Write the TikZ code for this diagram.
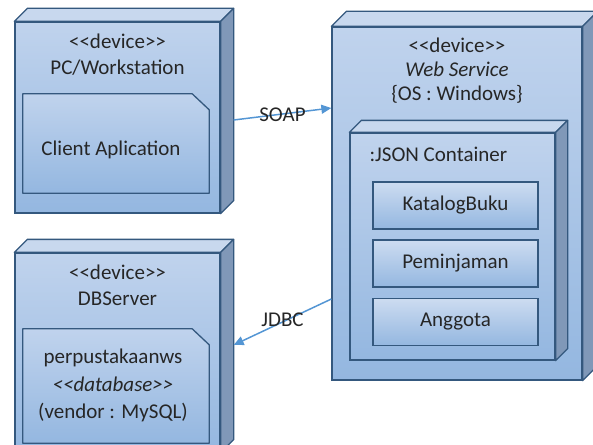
\documentclass[tikz,border=0pt]{standalone}
\usepackage{fontspec}
\newfontfamily\calibfont{Carlito}
\usetikzlibrary{arrows.meta}
\definecolor{nodeline}{RGB}{52,88,126}
\definecolor{facetop}{RGB}{192,211,237}
\definecolor{facebot}{RGB}{148,183,224}
\definecolor{roofblue}{RGB}{200,216,238}
\definecolor{sideblue}{RGB}{128,152,184}
\definecolor{linkblue}{RGB}{84,150,212}

\begin{document}
\begin{tikzpicture}[x=1pt,y=-1pt]
\tikzset{
  front/.style n args={2}{draw=nodeline,line width=1.3pt,top color=facetop,bottom color=facebot,minimum width=#1,minimum height=#2,inner sep=0pt},
  roof/.style={fill=roofblue,draw=nodeline,line width=1.3pt,line join=round},
  side/.style={fill=sideblue,draw=nodeline,line width=1.3pt,line join=round},
  part/.style={draw=nodeline,line width=1.3pt,top color=facetop!80!white,bottom color=facebot,minimum width=165pt,minimum height=47pt,inner sep=0pt,font=\calibfont\fontsize{21}{26}\selectfont,text=black!85},
  lab/.style={font=\calibfont\fontsize{21}{26}\selectfont,align=center,text=black!85},
  arr/.style={-{Triangle[length=10pt,width=9pt]},draw=linkblue,line width=1.5pt}
}
\useasboundingbox (0,0) rectangle (593,444);
\clip (0,0) rectangle (593,444);
% device nodes
\node[front={205pt}{191pt}] (pc) at (117.5,117.5) {};
\node[front={205pt}{199pt}] (db) at (117.5,352.5) {};
\node[front={250pt}{353pt}] (ws) at (457,203.5) {};
\node[front={205pt}{227pt}] (json) at (452.5,246.5) {};
\foreach \n/\d in {pc/13,db/13,ws/15,json/12}{
  \filldraw[roof] (\n.north west) -- ++(\d,-\d) -- ([shift={(\d,-\d)}]\n.north east) -- (\n.north east) -- cycle;
  \filldraw[side] (\n.north east) -- ([shift={(\d,-\d)}]\n.north east) -- ([shift={(\d,-\d)}]\n.south east) -- (\n.south east) -- cycle;
}
% artifacts with folded corner
\node[minimum width=186pt,minimum height=99pt,inner sep=0pt] (client) at (116,143.5) {};
\node[minimum width=186pt,minimum height=114pt,inner sep=0pt] (dbart) at (116,386) {};
\foreach \n in {client,dbart}{
  \shade[top color=facetop,bottom color=facebot,draw=nodeline,line width=1.3pt,line join=round]
    (\n.south west) -- (\n.north west) -- ([xshift=-17pt]\n.north east) -- ([yshift=-16pt]\n.north east) -- (\n.south east) -- cycle;
}
% texts
\node[lab] (pc-t) at (117.5,55) {<<device>>\\PC/Workstation};
\node[lab] (client-t) at (111,150) {Client Aplication};
\node[lab] (db-t) at (117.5,285.5) {<<device>>\\DBServer};
\node[lab,font=\calibfont\fontsize{21}{27.5}\selectfont] (dbart-t) at (113,385.5) {perpustakaanws\\\textit{<<database>>}\\(vendor : MySQL)};
\node[lab,font=\calibfont\fontsize{21}{24}\selectfont] (ws-t) at (457,71) {<<device>>\\\textit{Web Service}\\\{OS : Windows\}};
\node[lab,anchor=west] (json-t) at (366,154) {:JSON Container};
% components
\node[part] (katalog) at (455.5,205.5) {KatalogBuku};
\node[part] (pinjam) at (455.5,263.5) {Peminjaman};
\node[part] (anggota) at (455.5,322) {Anggota};
% links
\coordinate (soap-s) at ([shift={(13pt,-2.5pt)}]pc.east);
\coordinate (soap-e) at (ws.west |- 0,108);
\coordinate (jdbc-s) at (ws.west |- 0,299);
\coordinate (jdbc-e) at ([xshift=13pt]db.east |- 0,345);
\draw[arr] (soap-s) -- (soap-e) node[lab,midway,yshift=-1pt] (soap) {SOAP};
\draw[arr] (jdbc-s) -- (jdbc-e) node[lab,midway,yshift=2pt] (jdbc) {JDBC};
\end{tikzpicture}
\end{document}
